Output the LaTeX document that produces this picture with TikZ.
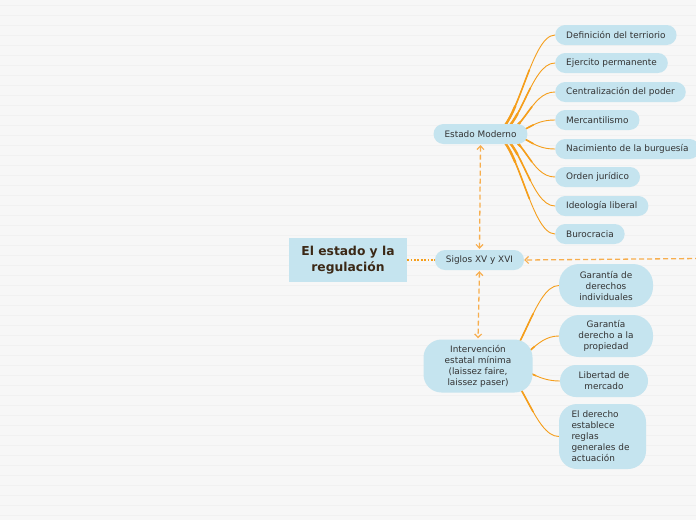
\documentclass[tikz,border=0pt]{standalone}
\usepackage{fontspec}
\setmainfont{DejaVu Sans}
\usetikzlibrary{arrows.meta}
\definecolor{bgc}{HTML}{F7F7F7}
\definecolor{stripe}{HTML}{F1F1F1}
\definecolor{nodeblue}{HTML}{C5E4EF}
\definecolor{orng}{HTML}{F59E1B}
\definecolor{dashorng}{HTML}{F7AE4E}
\definecolor{txt}{HTML}{333333}
\definecolor{roottxt}{HTML}{3B2816}
\pgfdeclarelayer{bg}\pgfdeclarelayer{edges}\pgfsetlayers{bg,edges,main}
\newcommand\taperline[4]{%
 \begin{pgfscope}
 \pgfsetstrokecolor{orng}\pgfsetroundcap
 \pgfsetlinewidth{0.9pt}
 \pgfpathmoveto{#1}\pgfpathcurveto{#2}{#3}{#4}\pgfusepath{stroke}
 \pgfsetlinewidth{1.6pt}
 \pgfpathcurvebetweentime{0}{0.6}{#1}{#2}{#3}{#4}\pgfusepath{stroke}
 \pgfsetlinewidth{2.4pt}
 \pgfpathcurvebetweentime{0}{0.35}{#1}{#2}{#3}{#4}\pgfusepath{stroke}
 \end{pgfscope}}
\newcommand\branch[4]{%
 \taperline{\pgfpointadd{\pgfpointanchor{#1}{center}}{\pgfpoint{#2}{0pt}}}
 {\pgfpointadd{\pgfpointanchor{#1}{center}}{\pgfpoint{#2+#4}{0pt}}}
 {\pgfpointadd{\pgfpointanchor{#3}{west}}{\pgfpoint{-#4}{0pt}}}
 {\pgfpointanchor{#3}{west}}}
\tikzset{
 pill/.style={fill=nodeblue, rounded corners=10pt, minimum height=20pt, inner xsep=11pt, inner ysep=0pt,
   font=\fontsize{8.9}{11}\selectfont, text=txt},
 bubble/.style={fill=nodeblue, font=\fontsize{8.9}{11}\selectfont, text=txt, inner sep=0pt, align=center},
 dashconn/.style={draw=dashorng, line width=1.3pt, dash pattern=on 5pt off 3pt,
   arrows={Straight Barb[length=3.5pt,width=7pt,line width=1.2pt]-Straight Barb[length=3.5pt,width=7pt,line width=1.2pt]}},
}
\begin{document}
\begin{tikzpicture}[x=1pt,y=-1pt]
\useasboundingbox (0,0) rectangle (696,520);
\begin{pgfonlayer}{bg}
 \fill[bgc] (0,0) rectangle (696,520);
 \foreach \y in {5,15,...,515} \draw[stripe, line width=1pt] (0,\y) -- (696,\y);
\end{pgfonlayer}
% nodes
\node[fill=nodeblue, minimum width=118pt, minimum height=44pt, inner sep=0pt, align=center,
  font=\bfseries\fontsize{12.3}{15.5}\selectfont, text=roottxt] (root) at (348,260) {El estado y la\\regulación};
\node[pill] (sig) at (479.5,260) {Siglos XV y XVI};
\node[pill] (em) at (480.5,134) {Estado Moderno};
\node[bubble, rounded corners=18pt, minimum width=109pt, minimum height=53pt] (int) at (478,366)
  {Intervención\\estatal mínima\\(laissez faire,\\laissez paser)};
\node[pill, anchor=west] (c1) at (555,35) {Definición del terriorio};
\node[pill, anchor=west] (c2) at (555,63) {Ejercito permanente};
\node[pill, anchor=west] (c3) at (555,92) {Centralización del poder};
\node[pill, anchor=west] (c4) at (555,120) {Mercantilismo};
\node[pill, anchor=west] (c5) at (555,149) {Nacimiento de la burguesía};
\node[pill, anchor=west] (c6) at (555,177) {Orden jurídico};
\node[pill, anchor=west] (c7) at (555,206) {Ideología liberal};
\node[pill, anchor=west] (c8) at (555,234) {Burocracia};
\node[bubble, rounded corners=20pt, minimum width=94pt, minimum height=43pt] (d1) at (606,285.5)
  {Garantía de\\derechos\\individuales};
\node[bubble, rounded corners=20pt, minimum width=94pt, minimum height=42pt] (d2) at (606,336)
  {Garantía\\derecho a la\\propiedad};
\node[bubble, rounded corners=16pt, minimum width=88pt, minimum height=32pt] (d3) at (604,381)
  {Libertad de\\mercado};
\node[bubble, rounded corners=18pt, minimum width=87pt, minimum height=65pt, text width=62pt, align=left] (d4) at (602.5,436.5)
  {El derecho\\establece\\reglas\\generales de\\actuación};
\coordinate (off) at (700,258.5);
% connectors
\begin{pgfonlayer}{edges}
 \draw[orng, line width=1.8pt, dash pattern=on 1.8pt off 1.6pt] (root.east) -- (sig.west);
 \draw[dashconn, {-Straight Barb[length=3.5pt,width=7pt,line width=1.2pt]}] (off) -- (sig.east);
 \draw[dashconn, shorten <=1pt, shorten >=1pt] (em.south) -- (sig.north);
 \draw[dashconn, shorten <=1pt, shorten >=1pt] (sig.south) -- (int.north);
 \foreach \c/\o in {c1/12pt,c2/15pt,c3/19pt,c4/23pt,c5/23pt,c6/19pt,c7/15pt,c8/12pt} {\branch{em}{\o}{\c}{25pt}}
 \foreach \c/\o in {d1/18pt,d2/22pt,d3/24pt,d4/18pt} {\branch{int}{\o}{\c}{25pt}}
\end{pgfonlayer}
\end{tikzpicture}
\end{document}
